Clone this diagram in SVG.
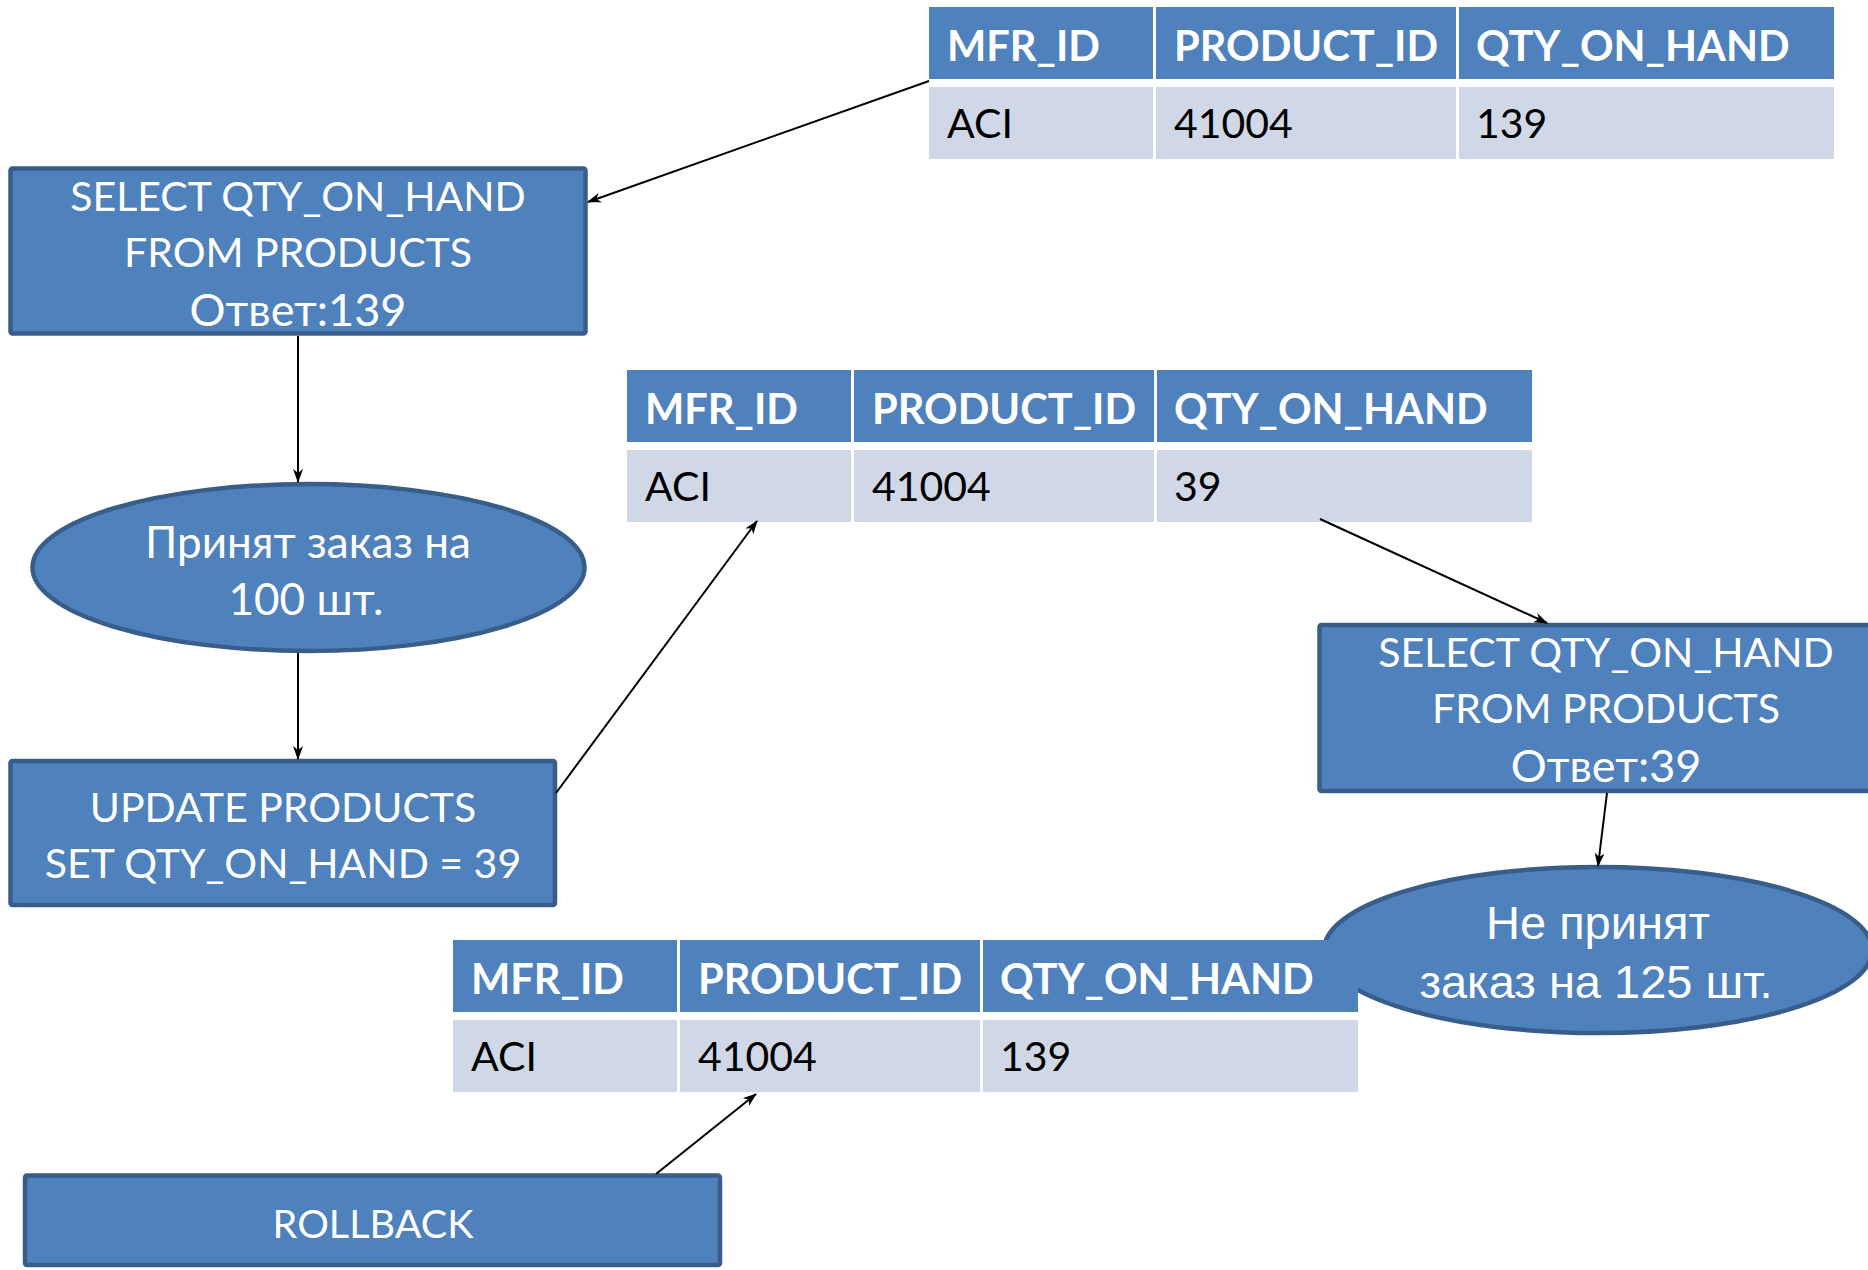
<svg xmlns="http://www.w3.org/2000/svg" width="1868" height="1270" viewBox="0 0 1868 1270">
<defs>
<style>
.box{fill:#4F81BD;stroke:#385D8A;stroke-width:4.5}
.hd{fill:#4F81BD}
.rw{fill:#D0D8E8}
.ht{font-family:Lato,"Liberation Sans",sans-serif;font-weight:bold;font-size:41.6px;fill:#fff}
.rt{font-family:Lato,"Liberation Sans",sans-serif;font-size:41px;fill:#000}
.t{font-family:Lato,"Liberation Sans",sans-serif;font-size:41px;fill:#fff;text-anchor:middle}
.tb{font-family:Lato,"Liberation Sans",sans-serif;font-size:45px;fill:#fff;text-anchor:middle}
.te{font-family:Lato,"Liberation Sans",sans-serif;font-size:44px;fill:#fff;text-anchor:middle}
.ta{font-family:"Liberation Sans",Arial,sans-serif;font-size:47px;fill:#fff;text-anchor:middle}
.c{stroke:#000;stroke-width:2;fill:none;marker-end:url(#ah)}
</style>
<marker id="ah" markerWidth="14" markerHeight="10" refX="13" refY="5" orient="auto" markerUnits="userSpaceOnUse">
<path d="M0,0 L14,5 L0,10 L4,5 z" fill="#000"/>
</marker>
<g id="tbl">
<rect class="hd" x="0" y="0" width="224" height="72"/>
<rect class="hd" x="227" y="0" width="300" height="72"/>
<rect class="hd" x="530" y="0" width="375" height="72"/>
<rect class="rw" x="0" y="80" width="224" height="72"/>
<rect class="rw" x="227" y="80" width="300" height="72"/>
<rect class="rw" x="530" y="80" width="375" height="72"/>
<text class="ht" x="18" y="54">MFR_ID</text>
<text class="ht" x="245" y="54">PRODUCT_ID</text>
<text class="ht" x="547" y="54">QTY_ON_HAND</text>
<text class="rt" x="18" y="131">ACI</text>
<text class="rt" x="245" y="131">41004</text>
</g>
</defs>

<g id="table1">
<use href="#tbl" x="929" y="7"/>
<text class="rt" x="1476" y="138">139</text>
</g>

<g id="select1">
<rect class="box" x="10.5" y="168.5" width="575" height="165" rx="2"/>
<text class="t" x="298" y="211">SELECT QTY_ON_HAND</text>
<text class="t" x="298" y="267">FROM PRODUCTS</text>
<text class="tb" x="298" y="326">Ответ:139</text>
</g>

<g id="table2">
<use href="#tbl" x="627" y="370"/>
<text class="rt" x="1174" y="501">39</text>
</g>

<g id="accepted">
<ellipse class="box" cx="308.5" cy="567.5" rx="276" ry="83.5"/>
<text class="te" x="308" y="558">Принят заказ на</text>
<text class="te" x="306" y="615">100 шт.</text>
</g>

<g id="select2">
<rect class="box" x="1319.5" y="625" width="575" height="166" rx="2"/>
<text class="t" x="1606" y="667">SELECT QTY_ON_HAND</text>
<text class="t" x="1606" y="723">FROM PRODUCTS</text>
<text class="tb" x="1606" y="782">Ответ:39</text>
</g>

<g id="update">
<rect class="box" x="10.5" y="761" width="544.5" height="144" rx="2"/>
<text class="t" x="283" y="822">UPDATE PRODUCTS</text>
<text class="t" x="283" y="878">SET QTY_ON_HAND = 39</text>
</g>

<g id="rejected">
<ellipse class="box" cx="1598" cy="950" rx="274" ry="83"/>
<text class="ta" x="1598" y="939">Не принят</text>
<text class="ta" x="1596" y="998">заказ на 125 шт.</text>
</g>

<g id="table3">
<use href="#tbl" x="453" y="940"/>
<text class="rt" x="1000" y="1071">139</text>
</g>

<g id="rollback">
<rect class="box" x="25" y="1175.5" width="695" height="89.5" rx="2"/>
<text class="t" x="373" y="1238" style="font-size:39.6px">ROLLBACK</text>
</g>

<g id="connectors">
<line class="c" x1="929" y1="81" x2="588" y2="202"/>
<line class="c" x1="298" y1="336" x2="298" y2="482"/>
<line class="c" x1="298" y1="653" x2="298" y2="759"/>
<line class="c" x1="556" y1="793" x2="757" y2="521"/>
<line class="c" x1="1320" y1="519" x2="1547" y2="623"/>
<line class="c" x1="1607" y1="793" x2="1598" y2="866"/>
<line class="c" x1="656" y1="1174" x2="756" y2="1094"/>
</g>
</svg>
